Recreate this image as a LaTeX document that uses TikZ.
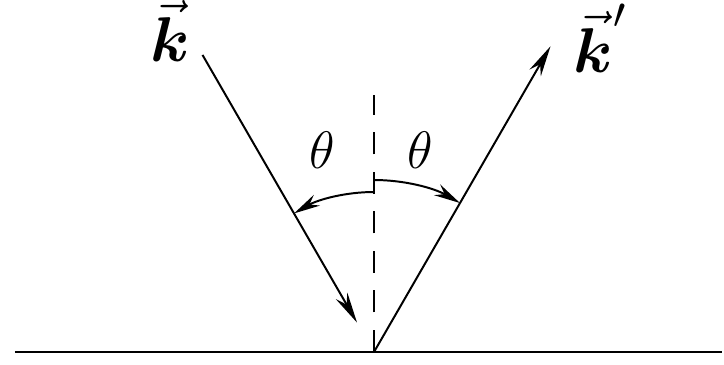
\documentclass[tikz,border=0pt]{standalone}
\usepackage{amssymb}
\usepackage{amsmath}
\usetikzlibrary{arrows.meta, calc}

\begin{document}
\begin{tikzpicture}[x=0.8cm, y=0.8cm,
                    ray/.style={-{Stealth[length=7pt, width=3pt]}, line width=0.45pt},
                    angarc/.style={-{Stealth[length=6pt, width=2.8pt]}, line width=0.45pt},
                    normal/.style={thin, dash pattern=on 5pt off 4pt}]
    \useasboundingbox (-3.74,-0.13) rectangle (3.50,3.52);

    \coordinate (O) at (0,0);
    \coordinate (sl) at (-3.59,0);
    \coordinate (sr) at (3.48,0);
    \coordinate (nt) at (90:2.57);
    \coordinate (ki) at (120:3.43);
    \coordinate (kt) at (120:0.34);
    \coordinate (ko) at (60:3.53);
    \coordinate (a1) at (90:1.60);
    \coordinate (a2) at (90:1.72);

    % surface and normal
    \draw[line width=0.45pt] (sl) -- (sr);
    \draw[normal] (O) -- (nt);

    % incoming and reflected wave vectors
    \draw[ray] (ki) -- (kt);
    \draw[ray] (O) -- (ko);

    % angles
    \draw[angarc] (a1) arc[start angle=90, end angle=120, radius=1.60];
    \draw[angarc] (a2) arc[start angle=90, end angle=60, radius=1.72];

    \node (th1) at (-0.52,2.02) {\large$\theta$};
    \node (th2) at (0.46,2.02) {\large$\theta$};
    \node[anchor=base] (lk) at (-2.04,2.90) {\Large$\vec{\boldsymbol{k}}$};
    \node[anchor=base west, inner sep=0pt] (lkp) at (1.99,2.79) {\Large$\vec{\boldsymbol{k}}'$};
\end{tikzpicture}
\end{document}
